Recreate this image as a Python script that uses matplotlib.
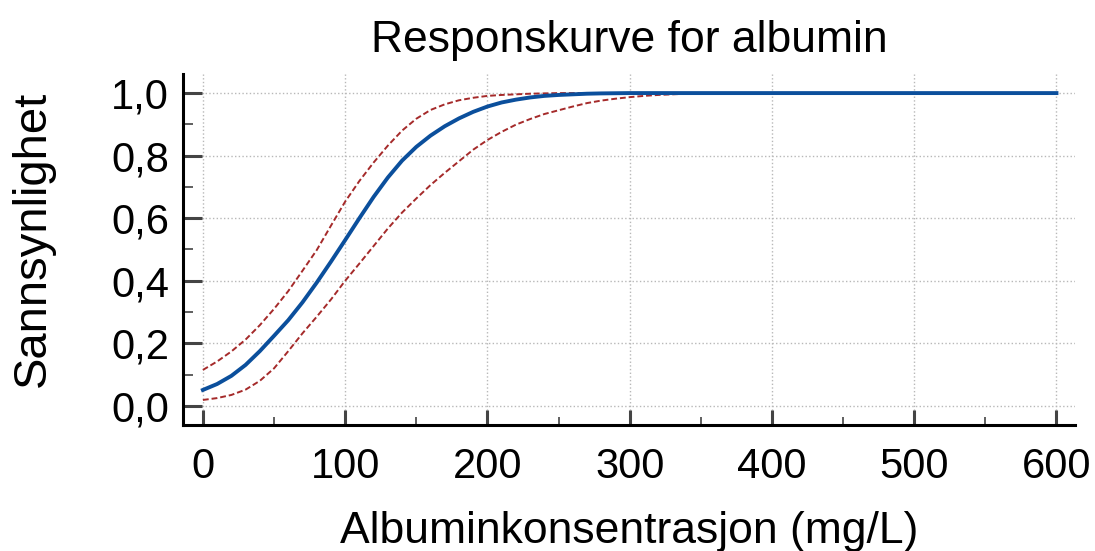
import matplotlib
matplotlib.use("Agg")
import matplotlib.pyplot as plt
from matplotlib.ticker import MultipleLocator, FuncFormatter

plt.rcParams['font.family'] = ['Liberation Sans', 'DejaVu Sans']

# Albumin concentration (mg/L)
conc = [0, 10, 20, 30, 40, 50, 60, 70, 80, 90, 100, 110, 120, 130, 140, 150,
        160, 170, 180, 190, 200, 210, 220, 230, 240, 250, 260, 270, 280, 290,
        300, 310, 320, 330, 340, 350, 360, 400, 450, 500, 550, 600]

# fitted probability
prob = [0.051, 0.070, 0.096, 0.131, 0.175, 0.224, 0.274, 0.331, 0.394, 0.461,
        0.530, 0.600, 0.668, 0.730, 0.784, 0.828, 0.864, 0.894, 0.919, 0.940,
        0.957, 0.970, 0.979, 0.986, 0.991, 0.994, 0.996, 0.998, 0.999, 0.9995,
        1.0, 1.0, 1.0, 1.0, 1.0, 1.0, 1.0, 1.0, 1.0, 1.0, 1.0, 1.0]

# 95 % confidence band
upper = [0.115, 0.142, 0.174, 0.212, 0.258, 0.310, 0.367, 0.432, 0.498, 0.576,
         0.653, 0.719, 0.778, 0.832, 0.880, 0.918, 0.946, 0.964, 0.977, 0.985,
         0.991, 0.994, 0.996, 0.998, 0.999, 1.0, 1.0, 1.0, 1.0, 1.0,
         1.0, 1.0, 1.0, 1.0, 1.0, 1.0, 1.0, 1.0, 1.0, 1.0, 1.0, 1.0]
lower = [0.019, 0.025, 0.035, 0.052, 0.080, 0.120, 0.175, 0.232, 0.285, 0.340,
         0.400, 0.455, 0.511, 0.567, 0.618, 0.663, 0.706, 0.745, 0.782, 0.819,
         0.850, 0.876, 0.899, 0.917, 0.933, 0.945, 0.957, 0.968, 0.976, 0.982,
         0.987, 0.991, 0.994, 0.996, 0.998, 0.999, 1.0, 1.0, 1.0, 1.0, 1.0, 1.0]

fig = plt.figure(figsize=(10.95, 5.51), dpi=100)
ax = fig.add_axes([0.1671, 0.2287, 0.8146, 0.637])

ax.plot(conc, upper, color='#a52a2a', lw=1.4, ls=(0, (3, 1.5)), zorder=3)
ax.plot(conc, lower, color='#a52a2a', lw=1.4, ls=(0, (3, 1.5)), zorder=3)
ax.plot(conc, prob, color='#0b4f9c', lw=2.8, zorder=4)

ax.set_xlim(-14, 613)
ax.set_ylim(-0.061, 1.061)

ax.xaxis.set_major_locator(MultipleLocator(100))
ax.xaxis.set_minor_locator(MultipleLocator(50))
ax.yaxis.set_major_locator(MultipleLocator(0.2))
ax.yaxis.set_minor_locator(MultipleLocator(0.1))
ax.yaxis.set_major_formatter(FuncFormatter(lambda v, p: f"{v:.1f}".replace('.', ',')))

ax.grid(which='major', color='#b8b8b8', ls=':', lw=1.0)
ax.spines['top'].set_visible(False)
ax.spines['right'].set_visible(False)
for s in ['left', 'bottom']:
    ax.spines[s].set_linewidth(2.2)

ax.tick_params(axis='y', which='major', direction='in', length=14, width=2.2,
               color='#444444', labelsize=30, pad=10)
ax.tick_params(axis='y', which='minor', direction='in', length=7, width=1.2,
               color='#444444')
ax.tick_params(axis='x', which='major', direction='in', length=11, width=2.2,
               color='#444444', labelsize=30, pad=16)
ax.tick_params(axis='x', which='minor', direction='in', length=6, width=1.2,
               color='#444444')

ax.set_title("Responskurve for albumin", fontsize=32, pad=16)
ax.set_xlabel("Albuminkonsentrasjon (mg/L)", fontsize=32, labelpad=17)
ax.set_ylabel("Sannsynlighet", fontsize=34)
ax.yaxis.set_label_coords(-0.144, 0.53)

fig.savefig("out.png", dpi=100)
